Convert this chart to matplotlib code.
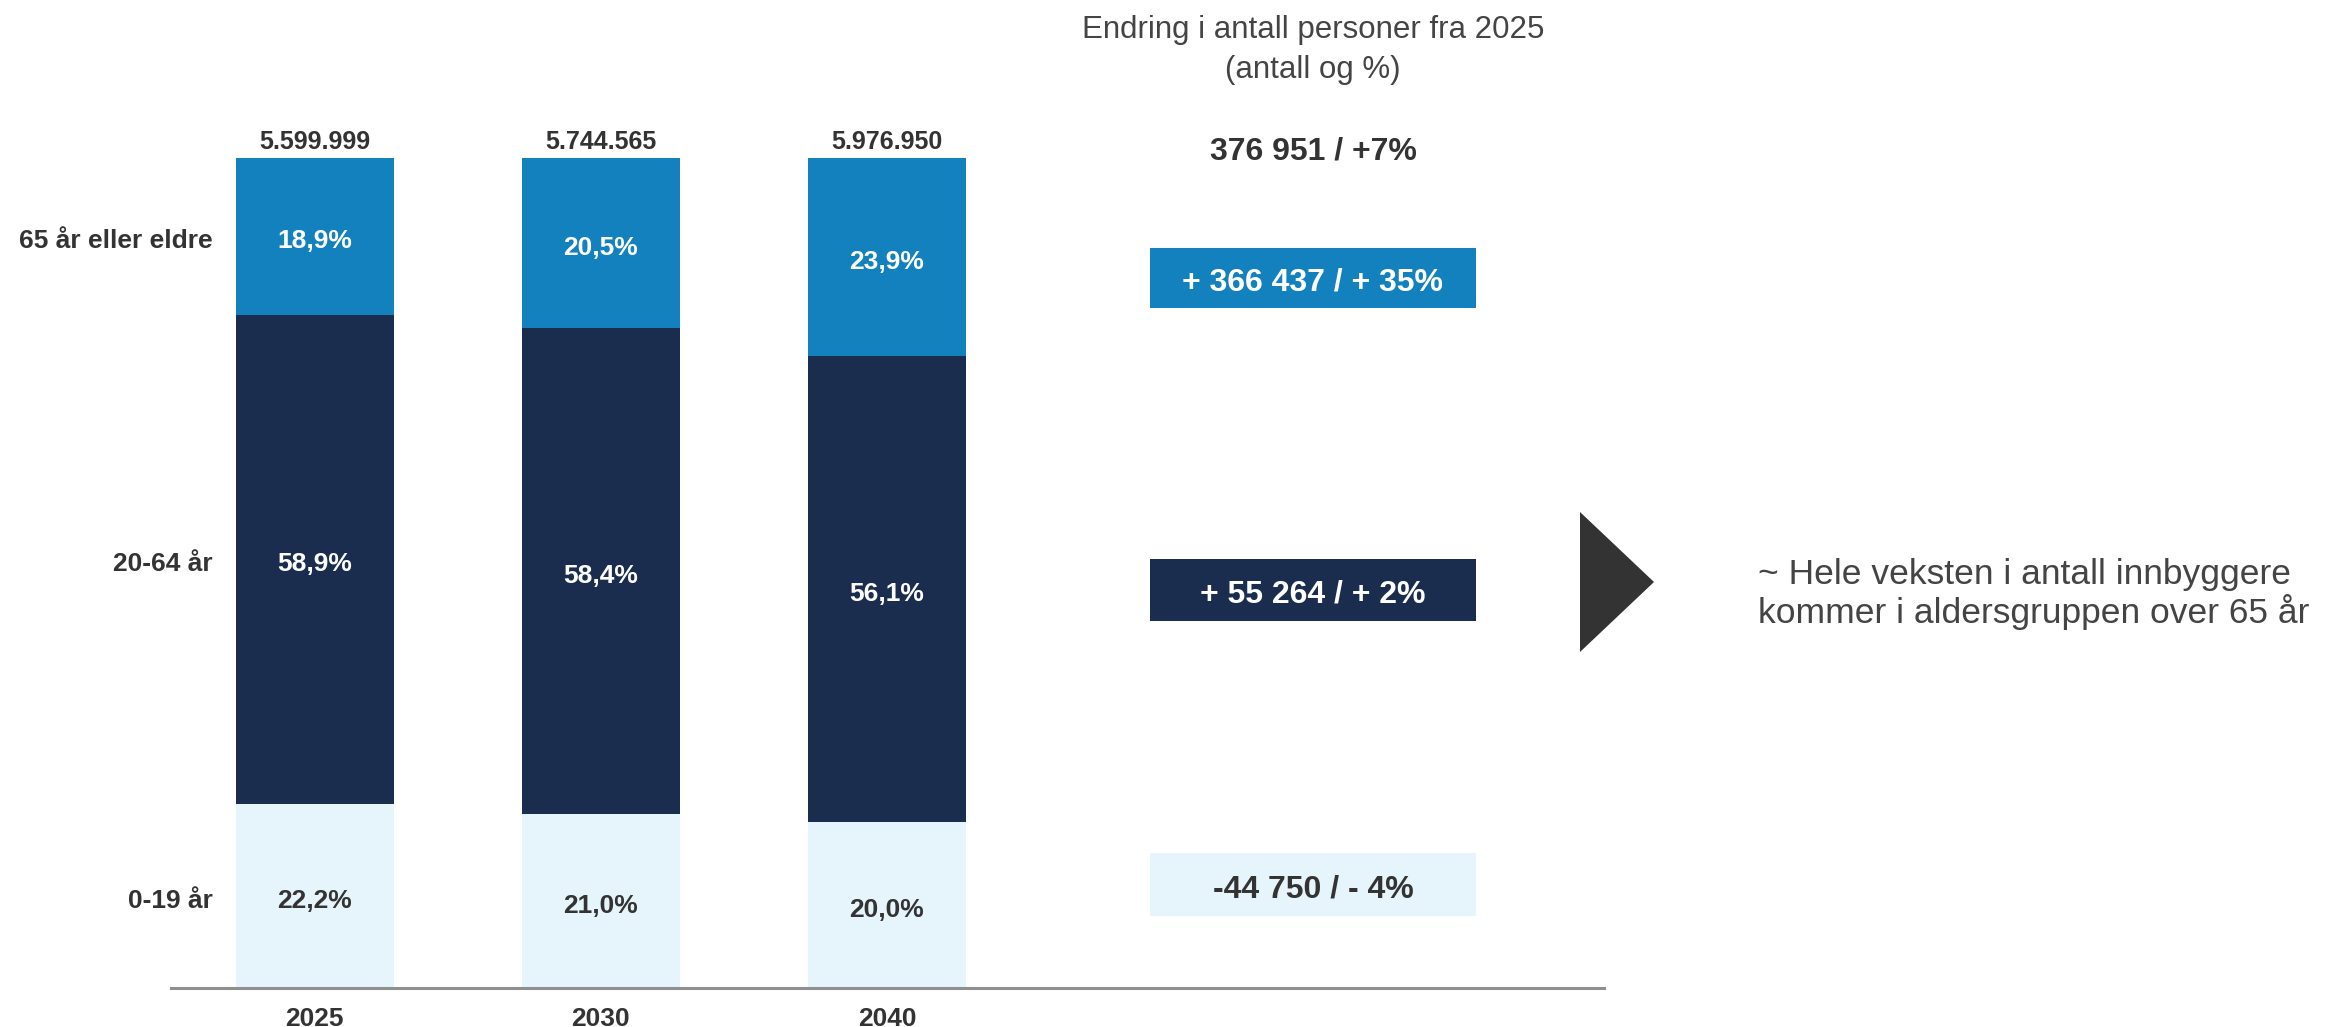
import matplotlib
matplotlib.use('Agg')
import matplotlib.pyplot as plt
from matplotlib.patches import Rectangle, Polygon
import numpy as np

# ---------------- data ----------------
years = ['2025', '2030', '2040']
groups = ['0-19 år', '20-64 år', '65 år eller eldre']
share_0_19 = [22.2, 21.0, 20.0]
share_20_64 = [58.9, 58.4, 56.1]
share_65 = [18.9, 20.5, 23.9]
totals = [5599999, 5744565, 5976950]
change_total = 376951
change_total_pct = 7
change_by_group = [-44750, 55264, 366437]      # 0-19, 20-64, 65+
change_by_group_pct = [-4, 2, 35]
header = "Endring i antall personer fra 2025\n(antall og %)"
conclusion = "~ Hele veksten i antall innbyggere\nkommer i aldersgruppen over 65 år"

# ---------------- style ----------------
colors = ['#e6f4fb', '#1b2d4f', '#1281bd']
text_colors = ['#333333', 'white', 'white']
dark = '#333333'
W, H = 2344, 1027

plt.rcParams['font.family'] = ['Liberation Sans', 'DejaVu Sans']
fig = plt.figure(figsize=(W / 100, H / 100), dpi=100)


def fx(x):
    return x / W


def fy(y):
    return 1 - y / H


ax = fig.add_axes([fx(171), fy(988), (1604 - 171) / W, (988 - 158) / H])

shares = np.array([share_0_19, share_20_64, share_65])
shares_norm = shares / shares.sum(axis=0) * 100
x = np.arange(len(years))
bw = 0.552
bottom = np.zeros(len(years))
for gi in range(len(groups)):
    ax.bar(x, shares_norm[gi], bottom=bottom, width=bw, color=colors[gi], linewidth=0)
    for xi in range(len(years)):
        lab = f"{shares[gi, xi]:.1f}".replace('.', ',') + '%'
        ax.annotate(lab, (x[xi], bottom[xi] + shares_norm[gi, xi] / 2),
                    xytext=(0, -3.5), textcoords='offset points',
                    ha='center', va='center', fontsize=19, fontweight='bold',
                    color=text_colors[gi])
    # group label at 2025 segment centre
    ax.annotate(groups[gi], (x[0] - bw / 2, bottom[0] + shares_norm[gi, 0] / 2),
                xytext=(-16.5, -3.5), textcoords='offset points',
                ha='right', va='center', fontsize=19, fontweight='bold', color=dark)
    bottom += shares_norm[gi]

for xi in range(len(years)):
    ax.annotate(f"{totals[xi]:,}".replace(',', '.'), (x[xi], 100),
                xytext=(0, 6.5), textcoords='offset points',
                ha='center', va='baseline', fontsize=18, fontweight='bold', color=dark)

ax.set_xlim(-0.503, 4.507)
ax.set_ylim(0, 100)
ax.set_xticks(x, years)
ax.set_yticks([])
ax.tick_params(axis='x', length=0, pad=14, labelsize=19, labelcolor=dark)
for t in ax.get_xticklabels():
    t.set_fontweight('bold')
for s in ['top', 'right', 'left']:
    ax.spines[s].set_visible(False)
ax.spines['bottom'].set_color('#8f8f8f')
ax.spines['bottom'].set_linewidth(2.2)
ax.patch.set_alpha(0)


# ---------------- right-hand annotations ----------------
def fmt(n):
    return f"{abs(n):,}".replace(',', ' ')


fig.text(fx(1313), fy(50), header, ha='center', va='center', fontsize=22.5,
         color='#444444', linespacing=1.45)
fig.text(fx(1313), fy(151), f"{fmt(change_total)} / +{change_total_pct}%",
         ha='center', va='center', fontsize=23, fontweight='bold', color=dark)

box_rows = {2: (248, 308), 1: (559, 621), 0: (853, 916)}
for gi, (y0, y1) in box_rows.items():
    fig.add_artist(Rectangle((fx(1150), fy(y1)), (1476 - 1150) / W, (y1 - y0) / H,
                             transform=fig.transFigure, facecolor=colors[gi],
                             edgecolor='none'))
    n, p = change_by_group[gi], change_by_group_pct[gi]
    if n >= 0:
        lab = f"+ {fmt(n)} / + {p}%"
    else:
        lab = f"-{fmt(n)} / - {abs(p)}%"
    fig.text(fx(1313), fy((y0 + y1) / 2 + 4.5), lab, ha='center', va='center',
             fontsize=23, fontweight='bold', color=text_colors[gi])

fig.add_artist(Polygon([(fx(1580), fy(512)), (fx(1654), fy(582)), (fx(1580), fy(652))],
                       closed=True, transform=fig.transFigure, facecolor='#333333',
                       edgecolor='none'))
fig.text(fx(1758), fy(594), conclusion, ha='left', va='center', fontsize=25.5,
         color='#444444', linespacing=1.1)

fig.savefig('out.png', dpi=100, facecolor='white')
